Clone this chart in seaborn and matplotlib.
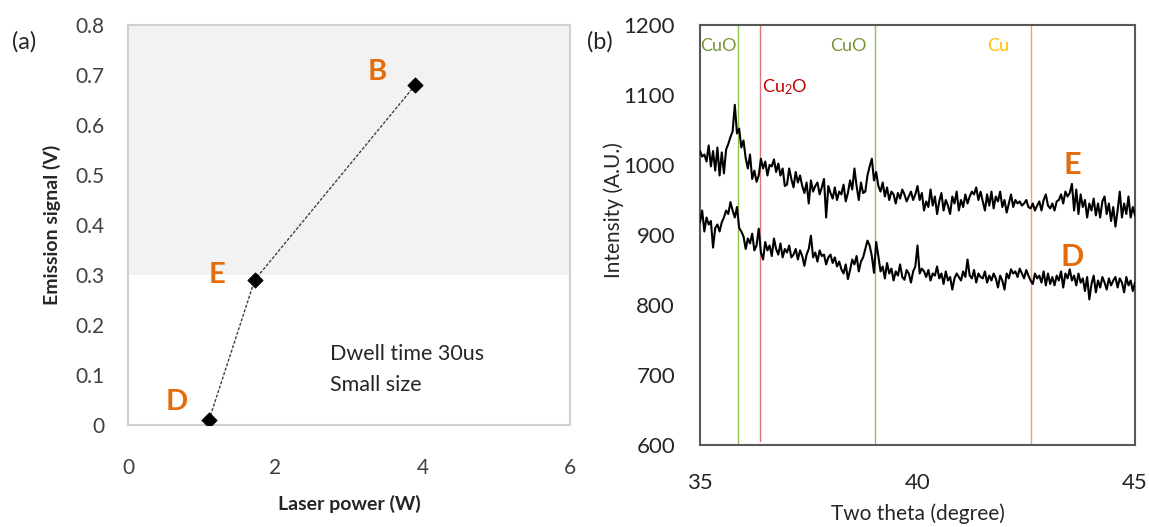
import numpy as np
import pandas as pd
import matplotlib
matplotlib.use("Agg")
import matplotlib.pyplot as plt
import seaborn as sns

# ---------------- data ----------------
# panel (a)
laser_power = [1.10, 1.72, 3.90]
emission = [0.01, 0.29, 0.68]
point_labels = ["D", "E", "B"]

# panel (b) : two theta from 35 to 45 in 0.05 steps
theta_start, theta_step = 35.0, 0.05
intensity_E = [
    1020, 1012, 1015, 1005, 1028, 998, 1020, 992, 1025, 985, 1018, 988, 1022, 1030, 1040, 1048, 1086, 1045, 1052, 1025,
    1035, 1010, 995, 1015, 980, 992, 976, 985, 1009, 995, 1005, 985, 1000, 998, 1008, 990, 1002, 985, 995, 970,
    972, 995, 980, 968, 990, 975, 985, 970, 960, 975, 945, 978, 962, 970, 975, 958, 968, 980, 925, 970,
    960, 952, 968, 950, 962, 958, 972, 948, 960, 978, 965, 995, 970, 950, 975, 960, 962, 985, 998, 1009,
    978, 990, 970, 962, 975, 955, 968, 950, 962, 958, 945, 960, 952, 965, 958, 948, 955, 962, 950, 958,
    970, 950, 960, 935, 948, 940, 965, 942, 955, 930, 948, 960, 935, 950, 942, 930, 955, 945, 962, 935,
    950, 940, 958, 945, 955, 962, 958, 968, 950, 962, 948, 935, 958, 942, 962, 938, 955, 948, 962, 940,
    950, 932, 945, 958, 940, 950, 945, 948, 942, 945, 950, 940, 938, 945, 935, 942, 948, 935, 950, 958,
    942, 938, 945, 935, 948, 950, 958, 945, 962, 955, 960, 973, 935, 965, 930, 958, 940, 950, 925, 945,
    935, 952, 928, 945, 925, 948, 955, 930, 945, 920, 940, 912, 935, 962, 925, 945, 930, 955, 925, 940,
    928,
]
intensity_D = [
    918, 935, 905, 925, 915, 920, 882, 910, 915, 905, 918, 925, 935, 930, 947, 935, 925, 940, 910, 905,
    898, 880, 895, 888, 902, 878, 885, 909, 875, 865, 890, 878, 885, 870, 895, 880, 872, 888, 868, 880,
    875, 885, 868, 872, 880, 865, 878, 870, 856, 872, 880, 899, 868, 875, 862, 878, 870, 872, 858, 868,
    872, 860, 868, 855, 862, 851, 845, 858, 837, 850, 865, 858, 870, 848, 862, 868, 880, 892, 885, 870,
    846, 890, 870, 848, 855, 838, 860, 845, 852, 835, 848, 842, 858, 840, 836, 850, 845, 832, 848, 855,
    885, 845, 852, 848, 840, 850, 835, 845, 842, 855, 838, 845, 830, 848, 835, 840, 822, 838, 845, 840,
    835, 848, 840, 865, 842, 838, 850, 832, 845, 840, 838, 848, 832, 842, 835, 845, 838, 825, 842, 835,
    822, 845, 838, 851, 845, 848, 840, 852, 845, 838, 850, 842, 835, 830, 845, 838, 842, 832, 848, 828,
    845, 830, 840, 828, 842, 835, 848, 825, 845, 838, 851, 835, 842, 828, 845, 832, 838, 820, 840, 808,
    830, 842, 818, 835, 825, 840, 832, 822, 838, 828, 835, 840, 825, 838, 832, 818, 840, 828, 835, 820,
    832,
]
phase_names = ["CuO", "Cu$_{\\mathrm{2}}$O", "CuO", "Cu"]
phase_theta = [35.87, 36.37, 39.03, 42.60]

# ---------------- style ----------------
sns.set_style("white")
plt.rcParams["font.family"] = ["Lato", "DejaVu Sans"]
plt.rcParams["mathtext.fontset"] = "custom"
plt.rcParams["mathtext.rm"] = "Lato"
plt.rcParams["mathtext.it"] = "Lato:italic"
plt.rcParams["mathtext.bf"] = "Lato:bold"

W, H = 1149, 527
fig = plt.figure(figsize=(W / 100, H / 100), dpi=100)

orange = "#E46C0A"

# ---------------- panel (a) ----------------
ax1 = fig.add_axes([128 / W, 1 - 425 / H, (570 - 128) / W, (425 - 25) / H])
ax1.axhspan(0.3, 0.8, color="#F2F2F2", zorder=0, lw=0)
df_a = pd.DataFrame({"power": laser_power, "signal": emission})
sns.lineplot(data=df_a, x="power", y="signal", ax=ax1, color="#404040",
             lw=1.0, linestyle=(0, (2.2, 1.2)), sort=False, zorder=2)
sns.scatterplot(data=df_a, x="power", y="signal", ax=ax1, marker="D", s=60,
                color="black", edgecolor="black", zorder=3)
ax1.set_xlim(0, 6)
ax1.set_ylim(0, 0.8)
ax1.set_xticks([0, 2, 4, 6])
ax1.set_yticks(np.arange(0, 0.81, 0.1))
ax1.set_yticklabels(["0"] + [f"{v:.1f}" for v in np.arange(0.1, 0.81, 0.1)])
ax1.tick_params(axis="both", labelsize=15, colors="#D0D0D0", labelcolor="#404040",
                direction="in", length=6, width=1)
ax1.tick_params(axis="x", pad=24)
ax1.tick_params(axis="y", pad=17)
for sp in ax1.spines.values():
    sp.set_color("#D0D0D0")
    sp.set_linewidth(1.5)
ax1.set_xlabel("Laser power (W)", fontsize=14, fontweight="bold", color="#262626", labelpad=12)
ax1.set_ylabel("Emission signal (V)", fontsize=14, fontweight="bold", color="#262626", labelpad=10)

label_pos = {"B": (3.39, 0.705), "E": (1.21, 0.30), "D": (0.66, 0.045)}
for lab in point_labels:
    x, y = label_pos[lab]
    ax1.text(x, y, lab, fontsize=21, fontweight="bold", color=orange, ha="center", va="center")
ax1.text(2.74, 0.142, "Dwell time 30us", fontsize=15.5, color="#262626", ha="left", va="center")
ax1.text(2.74, 0.08, "Small size", fontsize=15.5, color="#262626", ha="left", va="center")

# ---------------- panel (b) ----------------
ax2 = fig.add_axes([700 / W, 1 - 445 / H, (1135 - 700) / W, (445 - 25) / H])
n = len(intensity_E)
theta = theta_start + theta_step * np.arange(n)
df_b = pd.DataFrame({
    "theta": np.concatenate([theta, theta]),
    "intensity": intensity_E + intensity_D,
    "sample": ["E"] * n + ["D"] * n,
})
sns.lineplot(data=df_b, x="theta", y="intensity", units="sample", estimator=None,
             ax=ax2, color="black", lw=1.5, zorder=3)

line_colors = ["#92C050", "#D9777A", "#92C050", "#F0A070"]
line_tops = [1200, 1200, 1200, 1200]
line_bottoms = [600, 605, 600, 600]
for t, c, lo, hi in zip(phase_theta, line_colors, line_bottoms, line_tops):
    ax2.plot([t, t], [lo, hi], color=c, lw=1.0, zorder=2)

label_colors = ["#77933C", "#C00000", "#77933C", "#FFC000"]
label_xy = [(35.42, 1170), (36.43, 1111), (38.42, 1170), (41.85, 1170)]
label_ha = ["center", "left", "center", "center"]
for name, c, (x, y), ha in zip(phase_names, label_colors, label_xy, label_ha):
    ax2.text(x, y, name, fontsize=13, color=c, ha=ha, va="center")

ax2.text(43.55, 1000, "E", fontsize=22, fontweight="bold", color=orange, ha="center", va="center")
ax2.text(43.55, 868, "D", fontsize=22, fontweight="bold", color=orange, ha="center", va="center")

ax2.set_xlim(35, 45)
ax2.set_ylim(600, 1200)
ax2.set_xticks([35, 40, 45])
ax2.set_yticks(np.arange(600, 1201, 100))
ax2.tick_params(axis="both", labelsize=16, colors="#BFBFBF", labelcolor="#262626",
                direction="in", length=6, width=1)
ax2.tick_params(axis="x", pad=20)
ax2.tick_params(axis="y", pad=18)
for sp in ax2.spines.values():
    sp.set_color("#595959")
    sp.set_linewidth(1.5)
ax2.set_xlabel("Two theta (degree)", fontsize=15, color="#262626", labelpad=8)
ax2.set_ylabel("Intensity (A.U.)", fontsize=15, color="#262626")
ax2.yaxis.set_label_coords(-0.175, 0.56)

fig.text(24 / W, 1 - 42 / H, "(a)", fontsize=17, color="#262626", ha="center", va="center")
fig.text(600 / W, 1 - 42 / H, "(b)", fontsize=17, color="#262626", ha="center", va="center")

fig.savefig("out.png", dpi=100, facecolor="white")
